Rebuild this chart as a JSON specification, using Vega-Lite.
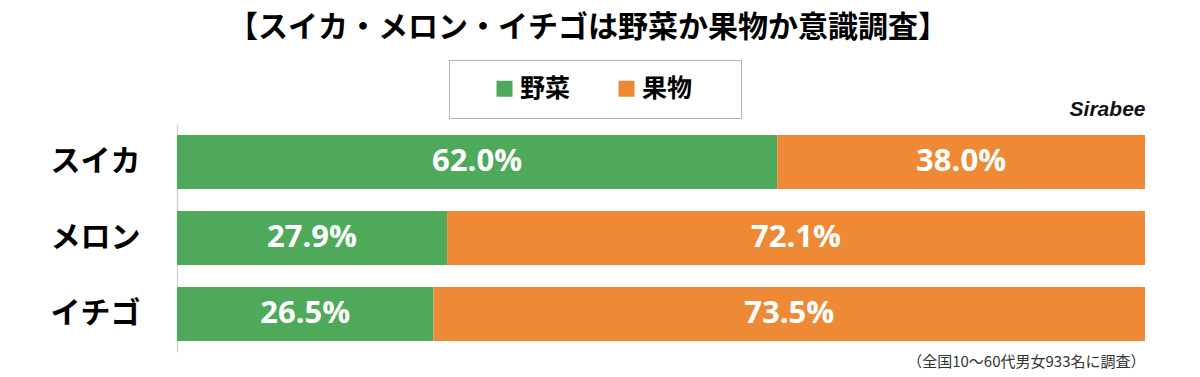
{
  "$schema": "https://vega.github.io/schema/vega-lite/v6.json",
  "autosize": "none",
  "width": 968,
  "height": 228,
  "padding": {"left": 177, "top": 124, "right": 55, "bottom": 25},
  "background": "white",
  "title": {
    "text": "【スイカ・メロン・イチゴは野菜か果物か意識調査】",
    "font": "Noto Sans CJK JP",
    "fontSize": 30,
    "fontWeight": "bold",
    "color": "#000000",
    "anchor": "middle",
    "frame": "group",
    "dx": -73,
    "offset": 17
  },
  "data": {
    "values": [
      {"fruit": "スイカ", "category": "野菜", "value": 0.62},
      {"fruit": "スイカ", "category": "果物", "value": 0.38},
      {"fruit": "メロン", "category": "野菜", "value": 0.279},
      {"fruit": "メロン", "category": "果物", "value": 0.721},
      {"fruit": "イチゴ", "category": "野菜", "value": 0.265},
      {"fruit": "イチゴ", "category": "果物", "value": 0.735}
    ]
  },
  "config": {"view": {"stroke": null}},
  "layer": [
    {
      "mark": {"type": "bar"},
      "encoding": {
        "y": {
          "field": "fruit",
          "type": "nominal",
          "sort": ["スイカ", "メロン", "イチゴ"],
          "scale": {"paddingInner": 0.29, "paddingOuter": 0.145},
          "axis": {
            "title": null,
            "ticks": false,
            "domainColor": "#d6d6d6",
            "domainWidth": 1.5,
            "labelFont": "Noto Sans CJK JP",
            "labelFontSize": 30,
            "labelFontWeight": "bold",
            "labelColor": "#000000",
            "labelPadding": 37
          }
        },
        "x": {
          "field": "value",
          "type": "quantitative",
          "stack": "zero",
          "scale": {"domain": [0, 1], "nice": false},
          "axis": {
            "orient": "bottom",
            "title": "（全国10～60代男女933名に調査）",
            "titleAnchor": "end",
            "titleFont": "Noto Sans CJK JP",
            "titleFontSize": 15,
            "titleFontWeight": "normal",
            "titleColor": "#333333",
            "titlePadding": 2,
            "labels": false,
            "ticks": false,
            "domain": false,
            "grid": false
          }
        },
        "color": {
          "field": "category",
          "type": "nominal",
          "scale": {"domain": ["野菜", "果物"], "range": ["#4eaa5a", "#ee8a35"]},
          "legend": {
            "orient": "none",
            "legendX": 272,
            "legendY": -64,
            "direction": "horizontal",
            "title": " ",
            "titleOrient": "right",
            "titleFontSize": 8,
            "titlePadding": 33,
            "padding": 16,
            "strokeColor": "#666666",
            "symbolType": "square",
            "symbolSize": 256,
            "symbolStrokeWidth": 0,
            "symbolOpacity": 1,
            "symbolOffset": 27,
            "labelOffset": 3,
            "labelFont": "Noto Sans CJK JP",
            "labelFontSize": 25,
            "labelFontWeight": "bold",
            "labelColor": "#000000",
            "columnPadding": 16,
            "encode": {
              "legend": {"update": {"strokeDash": {"value": [1, 1]}}}
            }
          }
        },
        "order": {"field": "category", "sort": "descending"}
      }
    },
    {
      "mark": {
        "type": "text",
        "color": "white",
        "font": "Open Sans",
        "fontSize": 31,
        "fontWeight": "bold",
        "baseline": "middle"
      },
      "encoding": {
        "y": {"field": "fruit", "type": "nominal", "sort": ["スイカ", "メロン", "イチゴ"]},
        "x": {
          "field": "value",
          "type": "quantitative",
          "stack": "zero",
          "bandPosition": 0.5,
          "axis": {
            "orient": "top",
            "title": "Sirabee",
            "titleAnchor": "end",
            "titleFont": "Liberation Sans",
            "titleFontStyle": "italic",
            "titleFontWeight": "bold",
            "titleFontSize": 21,
            "titleColor": "#111111",
            "titlePadding": 5,
            "labels": false,
            "ticks": false,
            "domain": false,
            "grid": false
          }
        },
        "text": {"field": "value", "type": "quantitative", "format": ".1%"},
        "detail": {"field": "category"},
        "order": {"field": "category", "sort": "descending"}
      }
    }
  ],
  "resolve": {"axis": {"x": "independent"}}
}
